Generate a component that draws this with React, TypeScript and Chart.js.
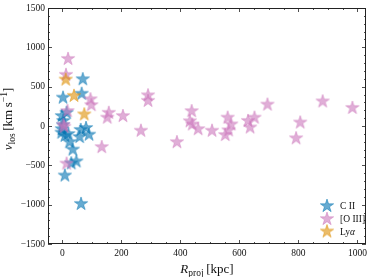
import React, { useEffect, useRef } from 'react';
import { Chart, registerables } from 'chart.js';
Chart.register(...registerables);

// ---- data (R_proj [kpc], v_los [km/s]) ----
const ciiR = [69, 2, 65, 14, -2, 3, 2, -2, -3, 8, 20, 24, 35, 62, 80, 90, 58, 47, 30, 8, 63];
const ciiV = [595, 360, 410, 168, 127, 65, 10, -40, -85, -125, -102, -205, -300, -50, -25, -110, -140, -450, -475, -630, -990];

const oiiiR = [19, 12, 95, 98, 17, 3, 6, 14, 157, 152, 205, 133, 266, 290, 290, 388, 438, 432, 440, 460, 507, 560, 572, 563, 552, 629, 651, 636, 695, 806, 792, 882, 983];
const oiiiV = [853, 650, 340, 265, 190, 15, -10, -478, 168, 106, 127, -268, -60, 390, 320, -205, 189, 60, 20, -40, -60, 106, 20, -55, -115, 65, 106, -19, 272, 44, -156, 313, 230];

const lyaR = [11, 39, 74];
const lyaV = [590, 383, 147];

const seriesLabels = ['C II', '[O III]', 'Ly'];
const seriesColors = ['#0173b2', '#cc78bc', '#de8f05'];

const xMajor = [0, 200, 400, 600, 800, 1000];
const yMajor = [-1500, -1000, -500, 0, 500, 1000, 1500];
const X_MIN = -49, X_MAX = 1029, Y_MIN = -1500, Y_MAX = 1500;

const SERIF = '"Liberation Serif", "Times New Roman", serif';

function makeStar(color: string, alpha: number, R = 7): HTMLCanvasElement {
  const s = 18;
  const c = document.createElement('canvas');
  c.width = s; c.height = s;
  const ctx = c.getContext('2d')!;
  const cx = s / 2, cy = s / 2;
  ctx.beginPath();
  for (let i = 0; i < 10; i++) {
    const a = -Math.PI / 2 + (i * Math.PI) / 5;
    const r = i % 2 ? R * 0.381966 : R;
    const px = cx + r * Math.cos(a), py = cy + r * Math.sin(a);
    if (i === 0) ctx.moveTo(px, py); else ctx.lineTo(px, py);
  }
  ctx.closePath();
  ctx.globalAlpha = alpha;
  ctx.fillStyle = color;
  ctx.fill();
  ctx.lineWidth = 0.8;
  ctx.strokeStyle = color;
  ctx.stroke();
  return c;
}

const toPts = (xs: number[], ys: number[]) => xs.map((x, i) => ({ x, y: ys[i] }));

export default function App() {
  const ref = useRef<HTMLCanvasElement>(null);
  useEffect(() => {
    const stars = seriesColors.map((c) => makeStar(c, 0.6));
    const fmt = (v: number) => (v < 0 ? '\u2212' + Math.abs(v) : String(v));

    const decor = {
      id: 'decor',
      afterDraw(chart: any) {
        const { ctx, chartArea } = chart;
        const { left, right, top, bottom } = chartArea;
        const xs = chart.scales.x, ys = chart.scales.y;
        ctx.save();
        ctx.strokeStyle = '#222';
        ctx.lineWidth = 1;
        ctx.strokeRect(left + 0.5, top + 0.5, right - left - 1, bottom - top - 1);
        ctx.lineWidth = 0.8;
        const xMinor: number[] = [];
        for (let v = 0; v <= X_MAX; v += 50) if (!xMajor.includes(v)) xMinor.push(v);
        const yMinor: number[] = [];
        for (let v = Y_MIN; v <= Y_MAX; v += 100) if (!yMajor.includes(v)) yMinor.push(v);
        const tickX = (v: number, len: number) => {
          const p = Math.round(xs.getPixelForValue(v)) + 0.5;
          ctx.beginPath();
          ctx.moveTo(p, bottom); ctx.lineTo(p, bottom - len);
          ctx.moveTo(p, top); ctx.lineTo(p, top + len);
          ctx.stroke();
        };
        const tickY = (v: number, len: number) => {
          const p = Math.round(ys.getPixelForValue(v)) + 0.5;
          ctx.beginPath();
          ctx.moveTo(left, p); ctx.lineTo(left + len, p);
          ctx.moveTo(right, p); ctx.lineTo(right - len, p);
          ctx.stroke();
        };
        xMajor.forEach((v) => tickX(v, 4));
        xMinor.forEach((v) => tickX(v, 2));
        yMajor.forEach((v) => tickY(v, 4));
        yMinor.forEach((v) => tickY(v, 2));

        // x title: R_proj [kpc]
        ctx.fillStyle = '#111';
        ctx.textBaseline = 'alphabetic';
        ctx.textAlign = 'left';
        const big = 13, small = 9.5;
        const partsX = [
          { t: 'R', f: `italic ${big}px ${SERIF}`, dy: 0 },
          { t: 'proj', f: `${small}px ${SERIF}`, dy: 3 },
          { t: '\u2009[kpc]', f: `${big}px ${SERIF}`, dy: 0 },
        ];
        let wX = 0;
        partsX.forEach((p) => { ctx.font = p.f; wX += ctx.measureText(p.t).width; });
        let cx = (left + right) / 2 - wX / 2;
        const baseX = 273;
        partsX.forEach((p) => { ctx.font = p.f; ctx.fillText(p.t, cx, baseX + p.dy); cx += ctx.measureText(p.t).width; });

        // y title: v_los [km s^-1]
        const partsY = [
          { t: 'v', f: `italic ${big}px ${SERIF}`, dy: 0 },
          { t: 'los', f: `${small}px ${SERIF}`, dy: 3 },
          { t: '\u2009[km\u2009s', f: `${big}px ${SERIF}`, dy: 0 },
          { t: '\u22121', f: `${small}px ${SERIF}`, dy: -5 },
          { t: ']', f: `${big}px ${SERIF}`, dy: 0 },
        ];
        let wY = 0;
        partsY.forEach((p) => { ctx.font = p.f; wY += ctx.measureText(p.t).width; });
        ctx.save();
        ctx.translate(12, 119);
        ctx.rotate(-Math.PI / 2);
        let cy = -wY / 2;
        partsY.forEach((p) => { ctx.font = p.f; ctx.fillText(p.t, cy, p.dy); cy += ctx.measureText(p.t).width; });
        ctx.restore();

        // legend
        const ly = [206, 219, 231.5];
        ctx.textBaseline = 'middle';
        seriesLabels.forEach((lab, i) => {
          ctx.drawImage(stars[i], 327 - 9, ly[i] - 9);
          ctx.font = `9.5px ${SERIF}`;
          ctx.fillText(lab, 340, ly[i] + 0.5);
          if (i === 2) {
            const w = ctx.measureText(lab).width;
            ctx.font = `italic 9.5px ${SERIF}`;
            ctx.fillText('\u03b1', 340 + w, ly[i] + 0.5);
          }
        });
        ctx.restore();
      },
    };

    const ds = (i: number, data: any[], order: number) => ({
      label: seriesLabels[i],
      data,
      pointStyle: stars[i],
      pointRadius: 7,
      pointHoverRadius: 7,
      order,
    });

    const chart = new Chart(ref.current!, {
      type: 'scatter',
      data: {
        datasets: [
          ds(0, toPts(ciiR, ciiV), 3),
          ds(1, toPts(oiiiR, oiiiV), 2),
          ds(2, toPts(lyaR, lyaV), 1),
        ],
      },
      options: {
        animation: false,
        responsive: false,
        events: [],
        layout: { padding: { left: 0, top: 3, right: 2, bottom: 0 } },
        plugins: { legend: { display: false }, tooltip: { enabled: false } },
        scales: {
          x: {
            type: 'linear',
            min: X_MIN,
            max: X_MAX,
            grid: { display: false, drawTicks: false },
            border: { display: false },
            afterBuildTicks: (s: any) => { s.ticks = xMajor.map((v) => ({ value: v })); },
            afterFit: (s: any) => { s.height = 33; s.paddingLeft = 0; s.paddingRight = 0; },
            ticks: {
              padding: 4,
              maxRotation: 0,
              autoSkip: false,
              color: '#111',
              font: { family: SERIF, size: 9.5 },
              callback: (v: any) => fmt(Number(v)),
            },
          },
          y: {
            type: 'linear',
            min: Y_MIN,
            max: Y_MAX,
            grid: { display: false, drawTicks: false },
            border: { display: false },
            afterBuildTicks: (s: any) => { s.ticks = yMajor.map((v) => ({ value: v })); },
            afterFit: (s: any) => { s.width = 48; s.paddingTop = 0; s.paddingBottom = 0; },
            ticks: {
              padding: 3,
              autoSkip: false,
              color: '#111',
              font: { family: SERIF, size: 9.5 },
              callback: (v: any) => fmt(Number(v)),
            },
          },
        },
      },
      plugins: [decor],
    } as any);
    return () => chart.destroy();
  }, []);

  return (
    <div style={{ position: 'absolute', left: 0, top: 0, width: 374, height: 277, background: '#fff' }}>
      <canvas ref={ref} width={374} height={277} style={{ width: 374, height: 277, display: 'block' }} />
    </div>
  );
}
